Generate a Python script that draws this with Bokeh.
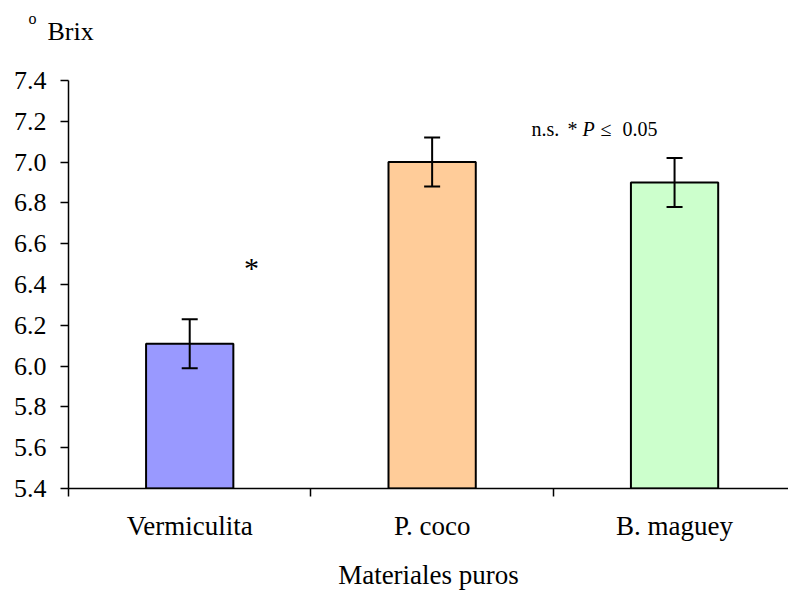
import numpy as np
from bokeh.plotting import figure
from bokeh.models import (ColumnDataSource, Range1d, FixedTicker, Whisker, TeeHead,
                          Label, NumeralTickFormatter, Title)
from bokeh.embed import file_html
from bokeh.resources import INLINE

# ---- data ----
categories = ["Vermiculita", "P. coco", "B. maguey"]
brix = [6.11, 7.00, 6.90]
err = [0.12, 0.12, 0.12]
colors = ["#9999FF", "#FFCC99", "#CCFFCC"]
y_ticks = [5.4, 5.6, 5.8, 6.0, 6.2, 6.4, 6.6, 6.8, 7.0, 7.2, 7.4]

FONT = "Liberation Serif"

xs = np.arange(len(categories)) + 0.5
src = ColumnDataSource(dict(
    x=xs, top=brix, color=colors,
    upper=np.array(brix) + np.array(err),
    lower=np.array(brix) - np.array(err),
))

p = figure(frame_width=720, frame_height=408, output_backend="svg", toolbar_location=None,
           x_range=Range1d(0, 2.97), y_range=Range1d(5.4, 7.4),
           min_border_left=68, min_border_right=0, min_border_top=80,
           min_border_bottom=96)
p.outline_line_color = None
p.xgrid.grid_line_color = None
p.ygrid.grid_line_color = None

p.vbar(x="x", top="top", bottom=5.4, width=0.36, fill_color="color",
       line_color="black", line_width=2, source=src)

w = Whisker(base="x", upper="upper", lower="lower", source=src, level="overlay",
            line_color="black", line_width=2,
            upper_head=TeeHead(size=16, line_color="black", line_width=2),
            lower_head=TeeHead(size=16, line_color="black", line_width=2))
p.add_layout(w)

# y axis
ya = p.yaxis[0]
ya.ticker = FixedTicker(ticks=y_ticks, minor_ticks=[])
ya.formatter = NumeralTickFormatter(format="0.0")
ya.axis_line_color = "black"
ya.axis_line_width = 1.5
ya.major_tick_line_color = "black"
ya.major_tick_line_width = 1.5
ya.major_tick_out = 8
ya.major_tick_in = 0
ya.major_label_standoff = 14
ya.major_label_text_font = FONT
ya.major_label_text_font_size = "26px"
ya.major_label_text_color = "black"

# x axis
xa = p.xaxis[0]
xa.ticker = FixedTicker(ticks=list(xs), minor_ticks=list(range(len(categories) + 1)))
xa.major_label_overrides = {float(x): c for x, c in zip(xs, categories)}
xa.axis_line_color = "black"
xa.axis_line_width = 1.5
xa.major_tick_line_color = None
xa.major_tick_out = 0
xa.major_tick_in = 0
xa.minor_tick_line_color = "black"
xa.minor_tick_line_width = 1.5
xa.minor_tick_out = 8
xa.minor_tick_in = 0
xa.major_label_standoff = 14
xa.major_label_text_font = FONT
xa.major_label_text_font_size = "27px"
xa.major_label_text_color = "black"
xa.axis_label = "Materiales puros"
xa.axis_label_text_font = FONT
xa.axis_label_text_font_size = "27px"
xa.axis_label_text_font_style = "normal"
xa.axis_label_text_color = "black"
xa.axis_label_standoff = 16

# "o Brix" heading above the y axis
# outermost: superscript o (figure title)
p.title.text = "o"
p.title.align = "left"
p.title.offset = -40
p.title.text_font = FONT
p.title.text_font_size = "16px"
p.title.text_font_style = "normal"
p.title.text_color = "black"
p.title.standoff = -25
# first added = closest to the frame: a white spacer, then "Brix"
p.add_layout(Title(text="Brix", align="left", offset=300, text_font=FONT,
                   text_font_size="26px", text_font_style="normal",
                   text_color="white", standoff=4), "above")
p.add_layout(Title(text="Brix", align="left", offset=-21, text_font=FONT,
                   text_font_size="26px", text_font_style="normal",
                   text_color="black", standoff=0), "above")

# annotations (offsets in pixels from top-left corner of the frame)
def lab(text, dx, dy, size, style="normal", align="left"):
    p.add_layout(Label(x=0, y=7.4, x_offset=dx, y_offset=dy, text=text,
                       text_font=FONT, text_font_size=size, text_font_style=style,
                       text_color="black", text_align=align,
                       text_baseline="alphabetic"))

lab("n.s.", 463, -48, "20px")
lab("*", 499, -48, "20px")
lab("P", 514, -48, "20px", style="italic")
lab("\u2264", 532, -48, "20px")
lab("0.05", 554, -48, "20px")
lab("*", 183, -187, "30px", align="center")

open("out.html", "w").write(file_html(p, INLINE))
